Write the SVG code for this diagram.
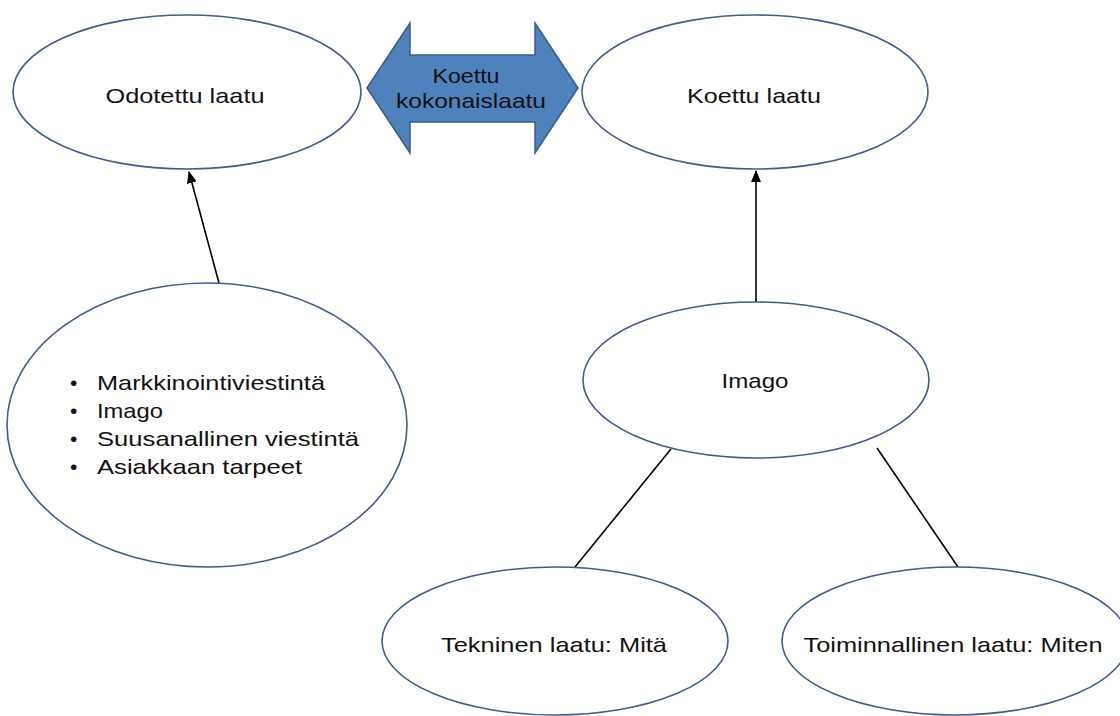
<svg xmlns="http://www.w3.org/2000/svg" width="1120" height="716" viewBox="0 0 1120 716">
<defs>
<marker id="ah" markerWidth="12" markerHeight="10" refX="11" refY="5" orient="auto" markerUnits="userSpaceOnUse">
<path d="M0,0 L12,5 L0,10 Z" fill="#000"/>
</marker>
<style>
.node ellipse{fill:#fff;stroke:#3f5d88;stroke-width:1.6}
text{font-family:"Liberation Sans",Arial,sans-serif;font-size:21px;fill:#111}
.mid{text-anchor:middle}
.conn line{stroke:#000;stroke-width:1.6}
</style>
</defs>
<rect width="1120" height="716" fill="#fff"/>
<g id="connectors" class="conn">
<line x1="219" y1="283" x2="189" y2="172" marker-end="url(#ah)"/>
<line x1="756" y1="302" x2="756" y2="171" marker-end="url(#ah)"/>
<line x1="671" y1="449" x2="575" y2="567"/>
<line x1="877" y1="448" x2="958" y2="567"/>
</g>
<g id="odotettu">
<g class="node"><ellipse cx="187" cy="92" rx="174" ry="77"/></g>
<text class="mid" x="185" y="103" textLength="159" lengthAdjust="spacingAndGlyphs">Odotettu laatu</text>
</g>
<g id="kokonaislaatu">
<polygon points="367,88 410,23 410,55 535,55 535,23 578,88 535,153 535,122 410,122 410,153" fill="#4f81bd" stroke="#385d8a" stroke-width="1.5"/>
<text class="mid" x="466" y="83" textLength="67" lengthAdjust="spacingAndGlyphs">Koettu</text>
<text class="mid" x="471" y="108" textLength="150" lengthAdjust="spacingAndGlyphs">kokonaislaatu</text>
</g>
<g id="koettu">
<g class="node"><ellipse cx="755" cy="92" rx="173" ry="77"/></g>
<text class="mid" x="754" y="103" textLength="134" lengthAdjust="spacingAndGlyphs">Koettu laatu</text>
</g>
<g id="tekijat">
<g class="node"><ellipse cx="207" cy="425" rx="200" ry="142"/></g>
<text x="70" y="390">•</text>
<text x="97" y="390" textLength="228" lengthAdjust="spacingAndGlyphs">Markkinointiviestintä</text>
<text x="70" y="418">•</text>
<text x="97" y="418" textLength="66" lengthAdjust="spacingAndGlyphs">Imago</text>
<text x="70" y="446">•</text>
<text x="97" y="446" textLength="262" lengthAdjust="spacingAndGlyphs">Suusanallinen viestintä</text>
<text x="70" y="474">•</text>
<text x="97" y="474" textLength="205" lengthAdjust="spacingAndGlyphs">Asiakkaan tarpeet</text>
</g>
<g id="imago">
<g class="node"><ellipse cx="756" cy="380" rx="173" ry="78"/></g>
<text class="mid" x="755" y="388" textLength="67" lengthAdjust="spacingAndGlyphs">Imago</text>
</g>
<g id="tekninen">
<g class="node"><ellipse cx="555" cy="641" rx="173" ry="74"/></g>
<text class="mid" x="554" y="652" textLength="226" lengthAdjust="spacingAndGlyphs">Tekninen laatu: Mitä</text>
</g>
<g id="toiminnallinen">
<g class="node"><ellipse cx="955" cy="641" rx="173" ry="74"/></g>
<text class="mid" x="953" y="652" textLength="299" lengthAdjust="spacingAndGlyphs">Toiminnallinen laatu: Miten</text>
</g>
</svg>
